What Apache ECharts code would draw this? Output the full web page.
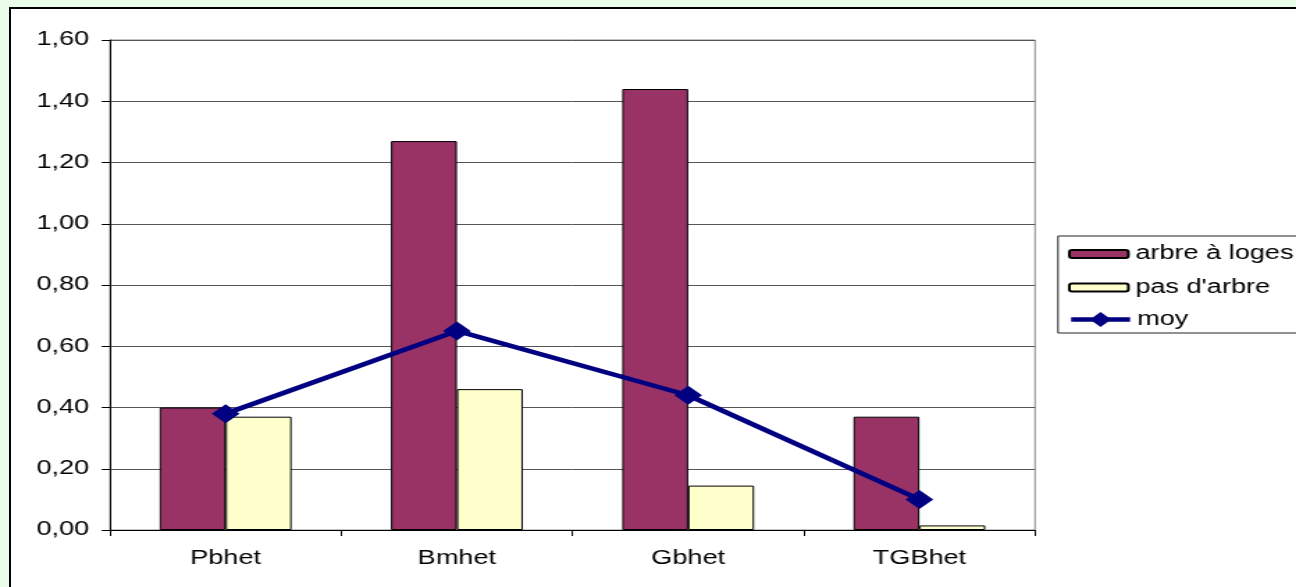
<!DOCTYPE html>
<html>
<head>
<meta charset="utf-8">
<script src="https://cdn.jsdelivr.net/npm/echarts@6/dist/echarts.min.js"></script>
<style>
  html, body { margin: 0; padding: 0; width: 1296px; height: 587px; overflow: hidden; background: #eafdea; }
  #frame { position: absolute; left: 9px; top: 7px; right: 0; bottom: 0; background: #fff;
           border-left: 2px solid #000; border-top: 2px solid #000; }
  /* chart is laid out on a narrower canvas and widened to the page width */
  #chart { position: absolute; left: 0; top: 0; width: 932px; height: 587px;
           transform: scaleX(1.3906); transform-origin: 0 0; }
</style>
</head>
<body>
<div id="frame"></div>
<div id="chart"></div>
<script>
const categories = ['Pbhet', 'Bmhet', 'Gbhet', 'TGBhet'];
const arbreALoges = [0.40, 1.27, 1.44, 0.37];
const pasDArbre = [0.37, 0.46, 0.145, 0.015];
const moy = [0.38, 0.65, 0.44, 0.10];
const yTicks = { min: 0, max: 1.6, interval: 0.2 };

const FONT = 'Liberation Sans, Arial, sans-serif';
const FS = 19.5;
const LINE_W = 4.5;

const chart = echarts.init(document.getElementById('chart'), null, { renderer: 'canvas' });
chart.setOption({
  animation: false,
  backgroundColor: 'transparent',
  textStyle: { fontFamily: FONT, color: '#000' },
  grid: {
    left: 79.1, right: 187.7, top: 40, bottom: 57,
    show: true, borderColor: '#888', borderWidth: 1, backgroundColor: 'transparent'
  },
  graphic: [{
    type: 'rect', z: 0,
    shape: { x: 760.8, y: 236, width: 260, height: 97 },
    style: { fill: '#fff', stroke: '#222', lineWidth: 1 }
  }],
  legend: [{
    orient: 'vertical', left: 768, top: 244, padding: 0,
    itemWidth: 42.4, itemHeight: 8, itemGap: 13.5,
    textStyle: { fontFamily: FONT, fontSize: FS, color: '#000' },
    data: ['arbre à loges', "pas d'arbre"]
  }, {
    orient: 'vertical', left: 768, top: 309.5, padding: 0,
    itemWidth: 42.4, itemHeight: 19,
    lineStyle: { width: LINE_W, color: '#000080' },
    textStyle: { fontFamily: FONT, fontSize: FS, color: '#000' },
    data: ['moy']
  }],
  xAxis: {
    type: 'category',
    data: categories,
    axisLine: { lineStyle: { color: '#000', width: 1 } },
    axisTick: { show: true, length: 6, lineStyle: { color: '#000' } },
    axisLabel: { fontFamily: FONT, fontSize: FS, color: '#000', margin: 19 },
    splitLine: { show: false }
  },
  yAxis: {
    type: 'value',
    min: yTicks.min, max: yTicks.max, interval: yTicks.interval,
    axisLine: { show: true, lineStyle: { color: '#000', width: 1 } },
    axisTick: { show: true, length: 6, lineStyle: { color: '#000' } },
    axisLabel: {
      fontFamily: FONT, fontSize: FS, color: '#000', margin: 15,
      formatter: v => v.toFixed(2).replace('.', ',')
    },
    splitLine: { show: true, lineStyle: { color: '#555', width: 1 } }
  },
  series: [{
    name: 'arbre à loges',
    type: 'bar',
    data: arbreALoges,
    barGap: '0%',
    barCategoryGap: '43%',
    itemStyle: { color: '#993366', borderColor: '#000', borderWidth: 1 }
  }, {
    name: "pas d'arbre",
    type: 'bar',
    data: pasDArbre,
    barGap: '0%',
    barCategoryGap: '43%',
    itemStyle: { color: '#ffffcc', borderColor: '#000', borderWidth: 1 }
  }, {
    name: 'moy',
    type: 'line',
    data: moy,
    z: 5,
    symbol: 'diamond',
    symbolSize: [20, 19],
    lineStyle: { color: '#000080', width: LINE_W },
    itemStyle: { color: '#000080' }
  }]
});
</script>
</body>
</html>
